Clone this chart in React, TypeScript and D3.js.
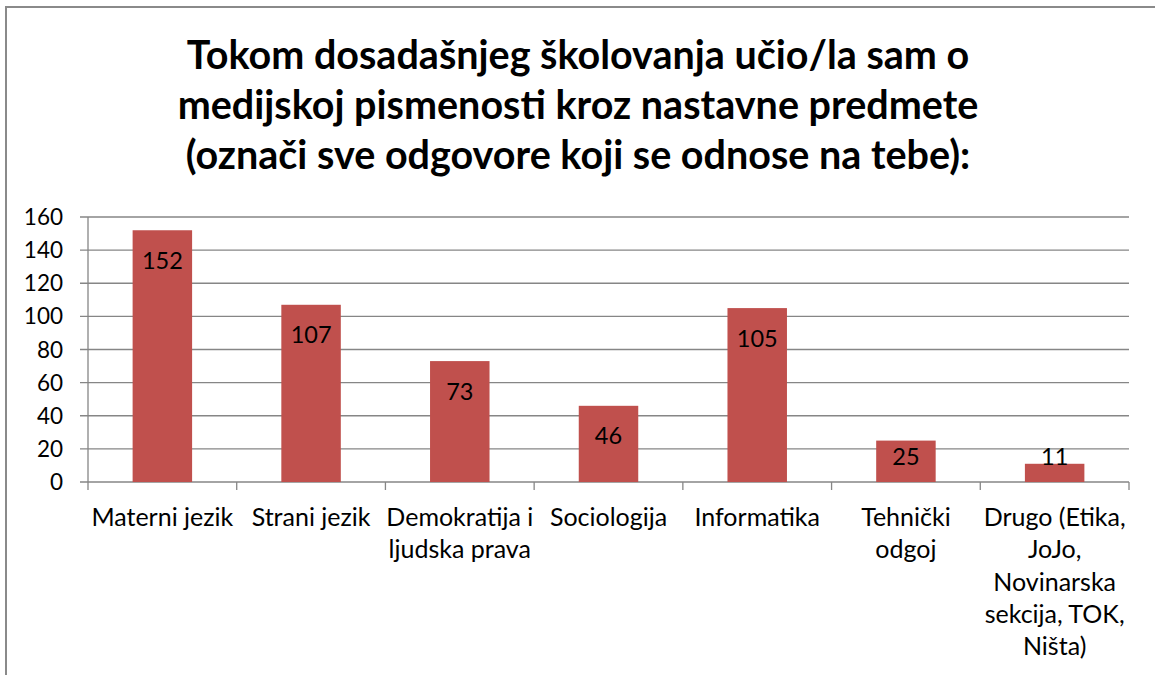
import React from "react";
import * as d3 from "d3";

const titleLines = [
  "Tokom dosadašnjeg školovanja učio/la sam o",
  "medijskoj pismenosti kroz nastavne predmete",
  "(označi sve odgovore koji se odnose na tebe):",
];
const categories = [
  "Materni jezik",
  "Strani jezik",
  "Demokratija i\nljudska prava",
  "Sociologija",
  "Informatika",
  "Tehnički\nodgoj",
  "Drugo (Etika,\nJoJo,\nNovinarska\nsekcija, TOK,\nNišta)",
];
const values = [152, 107, 73, 46, 105, 25, 11];
const yTicks = [0, 20, 40, 60, 80, 100, 120, 140, 160];

const W = 1155;
const H = 675;
const FONT = "Lato, 'Open Sans', sans-serif";
const GRID = "#868686";
const BAR = "#C0504D";

export default function App() {
  const x0 = 88, x1 = 1129, yTop = 217, yBot = 482;
  const x = d3.scaleBand<string>().domain(categories).range([x0, x1]).paddingInner(0).paddingOuter(0);
  const y = d3.scaleLinear().domain([0, 160]).range([yBot, yTop]);
  const bw = x.bandwidth() * 0.4;
  const bounds = d3.range(categories.length + 1).map((i) => x0 + i * x.bandwidth());

  return (
    <svg width={W} height={H} style={{ position: "absolute", left: 0, top: 0, background: "#fff" }}>
      <rect x={0} y={0} width={W} height={H} fill="#fff" />
      <rect x={6} y={7} width={W + 20} height={H + 20} fill="#fff" stroke="#8a8a8a" strokeWidth={2} />
      {titleLines.map((t, i) => (
        <text key={i} x={578} y={69 + i * 50} textAnchor="middle" fontFamily={FONT} fontWeight="bold" fontSize={39.5} fill="#000">
          {t}
        </text>
      ))}
      {yTicks.map((v) => (
        <g key={v}>
          <line x1={80} x2={x1} y1={y(v)} y2={y(v)} stroke={GRID} strokeWidth={1.3} />
          <text x={63} y={y(v)} dy="0.36em" textAnchor="end" fontFamily={FONT} fontSize={22.5} fill="#000">
            {v}
          </text>
        </g>
      ))}
      <line x1={x0} x2={x0} y1={yTop} y2={yBot} stroke={GRID} strokeWidth={1.3} />
      {bounds.map((bx, i) => (
        <line key={i} x1={bx} x2={bx} y1={yBot} y2={yBot + 8} stroke={GRID} strokeWidth={1.3} />
      ))}
      {categories.map((c, i) => {
        const cx = (x(c) as number) + x.bandwidth() / 2;
        const top = y(values[i]);
        const ly = Math.min(top + 30, yBot - 25);
        return (
          <g key={c}>
            <rect x={cx - bw / 2} y={top} width={bw} height={yBot - top} fill={BAR} />
            <text x={cx} y={ly} dy="0.36em" textAnchor="middle" fontFamily={FONT} fontSize={23.5} fill="#000">
              {values[i]}
            </text>
            <text textAnchor="middle" fontFamily={FONT} fontSize={25} fill="#000">
              {c.split("\n").map((ln, j) => (
                <tspan key={j} x={cx} y={526 + j * 32.3}>
                  {ln}
                </tspan>
              ))}
            </text>
          </g>
        );
      })}
    </svg>
  );
}
